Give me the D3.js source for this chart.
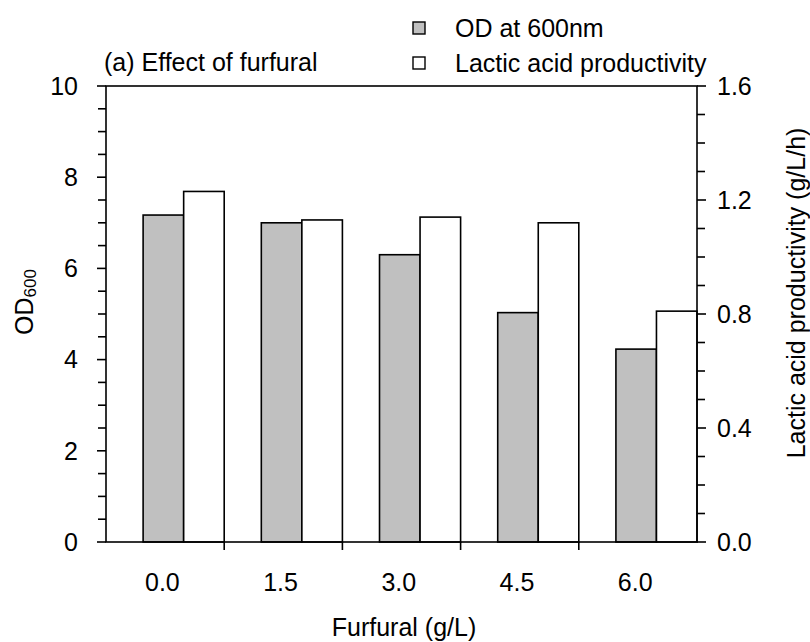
<!DOCTYPE html>
<html>
<head>
<meta charset="utf-8">
<script src="https://cdn.jsdelivr.net/npm/d3@7"></script>
<style>
  html, body { margin: 0; padding: 0; background: #fff; }
  svg text { font-family: Arial, "Liberation Sans", sans-serif; fill: #000; }
</style>
</head>
<body>
<svg id="chart" width="810" height="642"></svg>
<script>
// ---- data ----
const categories = ["0.0", "1.5", "3.0", "4.5", "6.0"];
const odValues = [7.17, 7.0, 6.3, 5.03, 4.23];
const productivityValues = [1.23, 1.13, 1.14, 1.12, 0.81];
const leftTicks = [0, 2, 4, 6, 8, 10];
const rightTicks = [0.0, 0.4, 0.8, 1.2, 1.6];
const seriesNames = ["OD at 600nm", "Lactic acid productivity"];

// ---- layout ----
const svg = d3.select("#chart");
const L = 106, R = 697, T = 86, B = 542;
const FS = 25;

const band = d3.scaleBand().domain(categories).range([L, R]).paddingInner(0).paddingOuter(0);
const yL = d3.scaleLinear().domain([0, 10]).range([B, T]);
const yR = d3.scaleLinear().domain([0, 1.6]).range([B, T]);

const bw = band.bandwidth();
const barW = bw * 0.343;
const grayOff = bw - 2 * barW; // bars sit at right side of band

// bars
const g = svg.append("g");
categories.forEach((c, i) => {
  const x0 = band(c) + grayOff;
  g.append("rect")
    .attr("x", x0).attr("y", yL(odValues[i]))
    .attr("width", barW).attr("height", yL(0) - yL(odValues[i]))
    .attr("fill", "#c0c0c0").attr("stroke", "#000").attr("stroke-width", 1.6);
  g.append("rect")
    .attr("x", x0 + barW).attr("y", yR(productivityValues[i]))
    .attr("width", barW).attr("height", yR(0) - yR(productivityValues[i]))
    .attr("fill", "#fff").attr("stroke", "#000").attr("stroke-width", 1.6);
});

// frame
svg.append("rect").attr("x", L).attr("y", T).attr("width", R - L).attr("height", B - T)
  .attr("fill", "none").attr("stroke", "#000").attr("stroke-width", 1.6);

// left axis ticks
const leftMinor = d3.range(0, 21, 1).map(k => k / 2);
leftMinor.forEach((v, k) => {
  const major = k % 4 === 0;
  svg.append("line").attr("x1", L).attr("x2", L - (major ? 9 : 8))
    .attr("y1", yL(v)).attr("y2", yL(v)).attr("stroke", "#000").attr("stroke-width", 1.6);
});
leftTicks.forEach(v => {
  svg.append("text").attr("x", 78).attr("y", yL(v)).attr("dy", "0.35em")
    .attr("text-anchor", "end").attr("font-size", FS).text(d3.format("d")(v));
});

// right axis ticks
const rightMinor = d3.range(0, 17, 1).map(k => k / 10);
rightMinor.forEach((v, k) => {
  const major = k % 4 === 0;
  svg.append("line").attr("x1", R).attr("x2", R + (major ? 9 : 8))
    .attr("y1", yR(v)).attr("y2", yR(v)).attr("stroke", "#000").attr("stroke-width", 1.6);
});
rightTicks.forEach(v => {
  svg.append("text").attr("x", 717).attr("y", yR(v)).attr("dy", "0.35em")
    .attr("text-anchor", "start").attr("font-size", FS).text(d3.format(".1f")(v));
});

// bottom axis ticks at band boundaries
categories.forEach((c, i) => {
  const xb = band(c) + bw;
  if (i < categories.length - 1) {
    svg.append("line").attr("x1", xb).attr("x2", xb).attr("y1", B).attr("y2", B + 8)
      .attr("stroke", "#000").attr("stroke-width", 1.6);
  }
  svg.append("text").attr("x", band(c) + grayOff + barW / 2 - 1).attr("y", 591)
    .attr("text-anchor", "middle").attr("font-size", FS).text(c);
});

// axis titles
svg.append("text").attr("x", 404).attr("y", 636).attr("text-anchor", "middle")
  .attr("font-size", FS).text("Furfural (g/L)");

const lt = svg.append("text").attr("transform", "translate(33,302) rotate(-90)")
  .attr("text-anchor", "middle").attr("font-size", FS);
lt.append("tspan").text("OD");
lt.append("tspan").attr("font-size", 17).attr("dy", 3).text("600");

svg.append("text").attr("transform", "translate(805,293) rotate(-90)")
  .attr("text-anchor", "middle").attr("font-size", FS).text("Lactic acid productivity (g/L/h)");

// title
svg.append("text").attr("x", 104).attr("y", 71).attr("font-size", FS).text("(a) Effect of furfural");

// legend
const legendFills = ["#c0c0c0", "#fff"];
seriesNames.forEach((name, i) => {
  const cy = 28 + i * 35;
  svg.append("rect").attr("x", 413).attr("y", cy - 6).attr("width", 12).attr("height", 12)
    .attr("fill", legendFills[i]).attr("stroke", "#000").attr("stroke-width", 1.4);
  svg.append("text").attr("x", 455).attr("y", cy).attr("dy", "0.35em")
    .attr("font-size", FS).text(name);
});
</script>
</body>
</html>
